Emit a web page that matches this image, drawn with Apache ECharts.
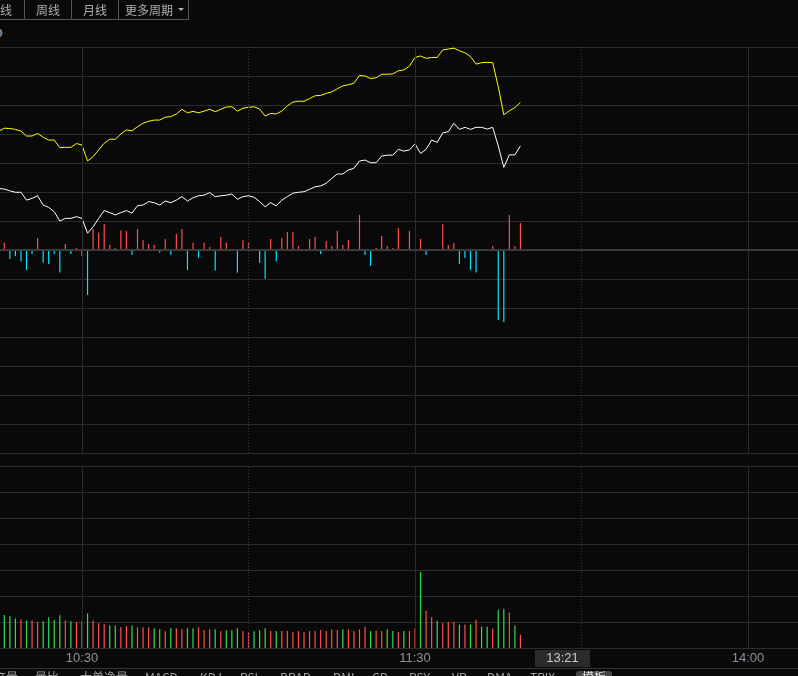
<!DOCTYPE html>
<html><head><meta charset="utf-8">
<script src="https://cdn.jsdelivr.net/npm/echarts@6/dist/echarts.min.js"></script>
<style>html,body{margin:0;padding:0;background:#090909;}#c{width:798px;height:676px;}</style>
</head><body><div id="c"></div>
<script>
// minute index: 9:30 = 0, 11:30/13:00 = 120, 14:00 = 180, 15:00 = 240
const startMinute = 45;
const viewMin = 45.225, viewMax = 189.009;
const hourLines = [60, 120, 180];
const halfHourLines = [90, 150];
const timeTickLabels = {60: '10:30', 120: '11:30', 180: '14:00'};
const cursorTimeLabel = '13:21';

const yellowLine = [
  4.10,4.20,4.19,4.16,4.10,3.93,3.93,4.02,3.89,3.79,
  3.79,3.53,3.54,3.54,3.67,3.62,3.07,3.22,3.45,3.68,
  3.82,3.82,4.00,4.14,4.11,4.25,4.37,4.44,4.48,4.48,
  4.58,4.60,4.69,4.85,4.73,4.78,4.73,4.79,4.85,4.77,
  4.85,4.93,4.94,4.79,4.89,4.92,4.94,4.86,4.62,4.71,
  4.69,4.79,4.97,5.10,5.13,5.13,5.22,5.32,5.33,5.40,
  5.45,5.56,5.66,5.70,5.75,6.02,6.00,5.91,5.94,6.06,
  6.06,6.07,6.18,6.21,6.34,6.64,6.69,6.61,6.64,6.64,
  6.90,6.93,6.96,6.87,6.80,6.67,6.41,6.46,6.47,6.46,
  5.63,4.66,4.80,4.91,5.09
];
const whiteLine = [
  2.12,2.10,2.04,1.99,1.99,1.72,1.78,1.87,1.55,1.47,
  1.32,1.00,1.09,1.09,1.15,1.09,0.58,0.80,1.09,1.36,
  1.29,1.21,1.29,1.36,1.27,1.53,1.55,1.67,1.63,1.55,
  1.69,1.63,1.72,1.84,1.69,1.80,1.87,1.89,1.98,1.84,
  1.87,1.89,1.93,1.75,1.84,1.87,1.82,1.67,1.49,1.63,
  1.52,1.72,1.84,1.96,1.99,2.01,2.09,2.18,2.21,2.30,
  2.47,2.62,2.62,2.76,2.82,3.07,3.10,3.01,3.01,3.24,
  3.27,3.27,3.47,3.41,3.45,3.66,3.33,3.47,3.79,3.71,
  4.04,4.08,4.37,4.16,4.23,4.16,4.23,4.23,4.17,4.23,
  3.59,2.85,3.28,3.28,3.59
];
const flowBars = [
  null,0.25,-0.31,-0.21,-0.40,-0.69,-0.14,0.41,-0.44,-0.48,
  -0.14,-0.78,0.21,-0.14,0.07,-0.21,-1.55,0.72,0.60,0.90,
  0.17,0.07,0.67,0.66,-0.17,0.72,0.34,0.21,0.17,-0.09,
  0.38,-0.17,0.55,0.72,-0.69,0.25,-0.28,0.25,0.10,-0.71,
  0.45,0.25,0.03,-0.78,0.34,0.25,0.03,-0.44,-0.99,0.38,
  -0.40,0.41,0.62,0.62,0.14,0.03,0.38,0.45,-0.14,0.31,
  0.14,0.66,0.17,0.34,0.03,1.21,-0.17,-0.55,0.07,0.48,
  0.14,0.07,0.76,0.03,0.66,null,0.38,-0.17,0.02,-0.03,
  0.90,0.17,0.24,-0.48,-0.28,-0.69,-0.78,-0.03,0.03,0.14,
  -2.41,-2.48,1.21,0.14,0.93
];
const volume = [
  null,
  1.27,1.22,1.14,1.10,1.06,1.06,1.00,1.03,1.18,1.08,
  1.26,1.06,1.03,1.00,1.03,1.33,1.06,0.95,0.91,0.87,
  0.87,0.81,0.85,0.87,0.80,0.80,0.80,0.76,0.72,0.64,
  0.76,0.76,0.72,0.76,0.76,0.80,0.69,0.72,0.72,0.64,
  0.68,0.68,0.76,0.64,0.60,0.64,0.68,0.76,0.65,0.65,
  0.65,0.65,0.61,0.65,0.61,0.65,0.65,0.69,0.65,0.72,
  0.69,0.72,0.72,0.65,0.72,0.82,0.65,0.67,0.65,0.72,
  0.65,0.61,0.65,0.65,0.75,2.93,1.43,1.18,1.05,0.95,
  1.01,1.01,0.90,0.90,0.90,1.09,0.82,0.82,0.75,1.47,
  1.51,1.37,0.86,0.51
];
// 1 = up (red), 0 = down (green)
const volUp = [
  null,
  0,0,0,1,0,1,1,0,0,0,
  0,1,0,1,0,0,1,1,1,0,
  0,1,1,0,1,1,1,0,0,1,
  0,1,1,0,0,1,1,1,0,1,
  0,0,0,1,1,0,0,0,1,0,
  1,1,1,1,1,1,1,1,1,1,
  1,0,1,1,1,1,0,1,1,0,
  0,1,0,1,1,0,1,1,0,1,
  1,1,0,1,0,1,0,0,1,0,
  0,1,0,1
];
const toolbarTabs = ['日线', '周线', '月线', '更多周期'];
const bottomTabs = ['成交量', '量比', '大单净量', 'MACD', 'KDJ', 'RSI', 'BRAR', 'DMI', 'CR', 'PSY', 'VR', 'DMA', 'TRIX'];
const activeTab = '模板';

const RED = '#ff4f4f', CYAN = '#00e4ff', GREEN = '#30dc52', GRID = '#2c2c2c';
const minutes = yellowLine.map((_, i) => startMinute + i);
const pair = arr => arr.map((v, i) => [minutes[i], v]);

const chart = echarts.init(document.getElementById('c'));

const vLines = hourLines.map(v => ({xAxis: v, lineStyle: {color: GRID, width: 1, type: 'solid'}}))
  .concat(halfHourLines.map(v => ({xAxis: v, lineStyle: {color: '#3a3a3a', width: 1, type: [1, 2]}})));

const xBase = {
  type: 'value', min: viewMin, max: viewMax,
  axisLine: {show: false}, axisTick: {show: false},
  splitLine: {show: false}
};
const yBase = {
  type: 'value', interval: 1,
  axisLine: {show: false}, axisTick: {show: false}, axisLabel: {show: false},
  splitLine: {show: true, lineStyle: {color: GRID, width: 1}}
};

const tabFont = '12px "Noto Sans CJK SC", "Liberation Sans", sans-serif';
const graphics = [];
// top toolbar
const sepX = [24.5, 71.5, 118.5, 188.5];
graphics.push({type: 'line', shape: {x1: 0, y1: 19.5, x2: 188.5, y2: 19.5}, style: {stroke: '#555', lineWidth: 1}});
sepX.forEach(x => graphics.push({type: 'line', shape: {x1: x, y1: 0, x2: x, y2: 19.5}, style: {stroke: '#555', lineWidth: 1}}));
const tabCenters = [0, 48, 95];
toolbarTabs.slice(0, 3).forEach((t, i) => graphics.push({type: 'text', x: tabCenters[i], y: 10, style: {text: t, fill: '#b0b0b0', font: tabFont, textAlign: 'center', textVerticalAlign: 'middle'}}));
graphics.push({type: 'text', x: 125, y: 10, style: {text: toolbarTabs[3], fill: '#b0b0b0', font: tabFont, textAlign: 'left', textVerticalAlign: 'middle'}});
graphics.push({type: 'polygon', shape: {points: [[178, 8], [184, 8], [181, 11]]}, style: {fill: '#b0b0b0'}});
// small icon
graphics.push({type: 'circle', shape: {cx: -2, cy: 33, r: 4}, style: {fill: '#3d6fa8', stroke: '#c88a30', lineWidth: 1}});
// bottom separator
graphics.push({type: 'line', shape: {x1: 0, y1: 668.5, x2: 798, y2: 668.5}, style: {stroke: '#333', lineWidth: 1}});
// cursor time box
graphics.push({type: 'rect', shape: {x: 535, y: 650, width: 55, height: 17}, style: {fill: '#2b2b2b'}});
graphics.push({type: 'text', x: 562.5, y: 658.5, style: {text: cursorTimeLabel, fill: '#c8c8c8', font: '13px "Liberation Sans", Arial, sans-serif', textAlign: 'center', textVerticalAlign: 'middle'}});
// bottom tabs
const bottomX = [18, 35, 80, 145, 200, 240, 280, 333, 372, 409, 452, 487, 530];
bottomTabs.forEach((t, i) => graphics.push({type: 'text', x: bottomX[i], y: 671, style: {text: t, fill: '#a0a0a0', font: tabFont, textAlign: i === 0 ? 'right' : 'left', textVerticalAlign: 'top'}}));
graphics.push({type: 'rect', shape: {x: 576, y: 671, width: 36, height: 10, r: [3, 3, 0, 0]}, style: {fill: '#454545'}});
graphics.push({type: 'text', x: 594, y: 671, style: {text: activeTab, fill: '#e0e0e0', font: tabFont, textAlign: 'center', textVerticalAlign: 'top'}});

chart.setOption({
  backgroundColor: '#090909',
  animation: false,
  grid: [
    {left: 0, right: 0, top: 47, height: 406},
    {left: 0, right: 0, top: 466, height: 182}
  ],
  xAxis: [
    Object.assign({}, xBase, {gridIndex: 0, axisLabel: {show: false}}),
    Object.assign({}, xBase, {gridIndex: 1, axisLabel: {show: true, customValues: hourLines, formatter: v => timeTickLabels[v] || '', color: '#8a939c', fontSize: 13, fontFamily: '"Liberation Sans", Arial, sans-serif', margin: 4}})
  ],
  yAxis: [
    Object.assign({}, yBase, {gridIndex: 0, min: -7, max: 7}),
    Object.assign({}, yBase, {gridIndex: 1, min: 0, max: 7})
  ],
  graphic: graphics,
  series: [
    {
      type: 'bar', xAxisIndex: 0, yAxisIndex: 0, data: pair(flowBars), barWidth: 1.2,
      itemStyle: {color: p => (p.value[1] >= 0 ? RED : CYAN)},
      markLine: {silent: true, symbol: 'none', label: {show: false}, animation: false,
        data: vLines.concat([{yAxis: 0, lineStyle: {color: '#3a3a3a', width: 2, type: 'solid'}}])},
      z: 2
    },
    {type: 'line', xAxisIndex: 0, yAxisIndex: 0, data: pair(yellowLine), showSymbol: false, lineStyle: {color: '#ffff00', width: 1}, z: 3},
    {type: 'line', xAxisIndex: 0, yAxisIndex: 0, data: pair(whiteLine), showSymbol: false, lineStyle: {color: '#ffffff', width: 1}, z: 3},
    {
      type: 'bar', xAxisIndex: 1, yAxisIndex: 1, data: pair(volume), barWidth: 1.2,
      itemStyle: {color: p => (volUp[p.dataIndex] ? RED : GREEN)},
      markLine: {silent: true, symbol: 'none', label: {show: false}, animation: false, data: vLines}
    }
  ]
});
</script>
</body></html>
